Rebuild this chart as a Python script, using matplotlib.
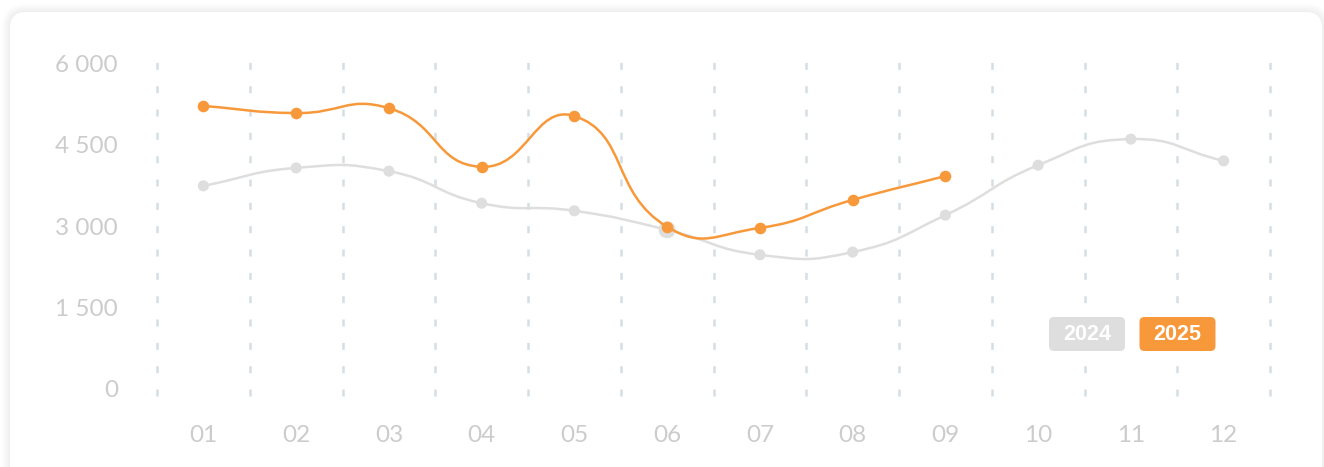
import numpy as np
import matplotlib
matplotlib.use("Agg")
import matplotlib.pyplot as plt
from matplotlib.path import Path
from matplotlib.patches import PathPatch, FancyBboxPatch
from matplotlib.ticker import FuncFormatter

# data
months = ['01', '02', '03', '04', '05', '06', '07', '08', '09', '10', '11', '12']
values_2024 = [3740, 4070, 4010, 3420, 3280, 2930, 2470, 2520, 3200, 4120, 4600, 4200]
values_2025 = [5210, 5080, 5170, 4090, 5025, 2985, 2965, 3480, 3920]
y_ticks = [0, 1500, 3000, 4500, 6000]

ORANGE = '#f7993a'
GREY = '#dedede'
LABEL = '#cccccc'
GRID = '#d5dee4'

W, H = 1324, 467
# pixel scale of the plot area, used for the smoothing weights
SX, SY = 92.75, 326 / 6000


def smooth_path(xs, ys, smooth=0.5):
    pts = np.column_stack([np.asarray(xs, float) * SX, np.asarray(ys, float) * SY])
    n = len(pts)
    cin, cout = [], []
    for i in range(n):
        p = pts[i]
        prev = pts[max(i - 1, 0)]
        nxt = pts[min(i + 1, n - 1)]
        v = (nxt - prev) * smooth
        d0 = np.linalg.norm(p - prev)
        d1 = np.linalg.norm(p - nxt)
        s = d0 + d1
        if s > 0:
            d0, d1 = d0 / s, d1 / s
        cin.append(p - v * d0)
        cout.append(p + v * d1)
    verts = [pts[0]]
    codes = [Path.MOVETO]
    for i in range(n - 1):
        verts += [cout[i], cin[i + 1], pts[i + 1]]
        codes += [Path.CURVE4] * 3
    verts = np.array(verts) / np.array([SX, SY])
    return Path(verts, codes)


plt.rcParams['lines.scale_dashes'] = False
fig = plt.figure(figsize=(W / 100, H / 100), dpi=100)
fig.patch.set_facecolor('white')

# background card
bg = fig.add_axes([0, 0, 1, 1], zorder=0)
bg.set_xlim(0, W)
bg.set_ylim(H, 0)
bg.axis('off')
for k in range(8, 0, -1):
    bg.add_patch(FancyBboxPatch((10 - k, 12 - k), 1312 + 2 * k, 500,
                                boxstyle='round,pad=0,rounding_size=%d' % (16 + k),
                                fc='black', ec='none', alpha=0.006))
bg.add_patch(FancyBboxPatch((10, 12), 1312, 500, boxstyle='round,pad=0,rounding_size=16',
                            fc='white', ec='none'))

# main chart
ax = fig.add_axes([157 / W, (H - 396) / H, 1113 / W, 334 / H], zorder=1)
ax.patch.set_alpha(0)
x24 = np.arange(1, len(values_2024) + 1)
x25 = np.arange(1, len(values_2025) + 1)

ax.set_xlim(0.5, 12.5)
ax.set_ylim(-130, 6020)

for xb in np.arange(0.5, 13.0, 1.0):
    ax.axvline(xb, color=GRID, lw=1.8, dashes=(5.0, 11.8), clip_on=False, zorder=1)

ax.add_patch(PathPatch(smooth_path(x24, values_2024), fill=False, ec=GREY, lw=1.8, zorder=2))
sizes24 = [64] * len(values_2024)
sizes24[5] = 150
ax.scatter(x24, values_2024, s=sizes24, color=GREY, zorder=3, linewidths=0)

ax.add_patch(PathPatch(smooth_path(x25, values_2025), fill=False, ec=ORANGE, lw=1.8, zorder=4))
ax.scatter(x25, values_2025, s=70, color=ORANGE, zorder=5, linewidths=0)

ax.set_xticks(x24)
ax.set_xticklabels(months)
ax.set_yticks(y_ticks)
ax.yaxis.set_major_formatter(FuncFormatter(lambda v, p: '{:,}'.format(int(v)).replace(',', ' ')))
ax.tick_params(length=0, labelsize=17.5, labelcolor=LABEL)
ax.tick_params(axis='y', pad=28)
ax.tick_params(axis='x', pad=21)
for lab in ax.get_xticklabels() + ax.get_yticklabels():
    lab.set_fontfamily(['Lato', 'DejaVu Sans'])
    lab.set_fontweight('normal')
for sp in ax.spines.values():
    sp.set_visible(False)
ax.grid(False)

# legend badges
ov = fig.add_axes([0, 0, 1, 1], zorder=3)
ov.set_xlim(0, W)
ov.set_ylim(H, 0)
ov.axis('off')
ov.patch.set_alpha(0)
for cx, label, col in [(1087, '2024', GREY), (1177.5, '2025', ORANGE)]:
    ov.add_patch(FancyBboxPatch((cx - 38, 317), 76, 34, boxstyle='round,pad=0,rounding_size=5',
                                fc=col, ec='none'))
    ov.text(cx, 335, label, ha='center', va='center', color='white', fontsize=15.5,
            fontweight='bold', family=['Liberation Sans', 'DejaVu Sans'])

fig.savefig('out.png', dpi=100, facecolor=fig.get_facecolor())
